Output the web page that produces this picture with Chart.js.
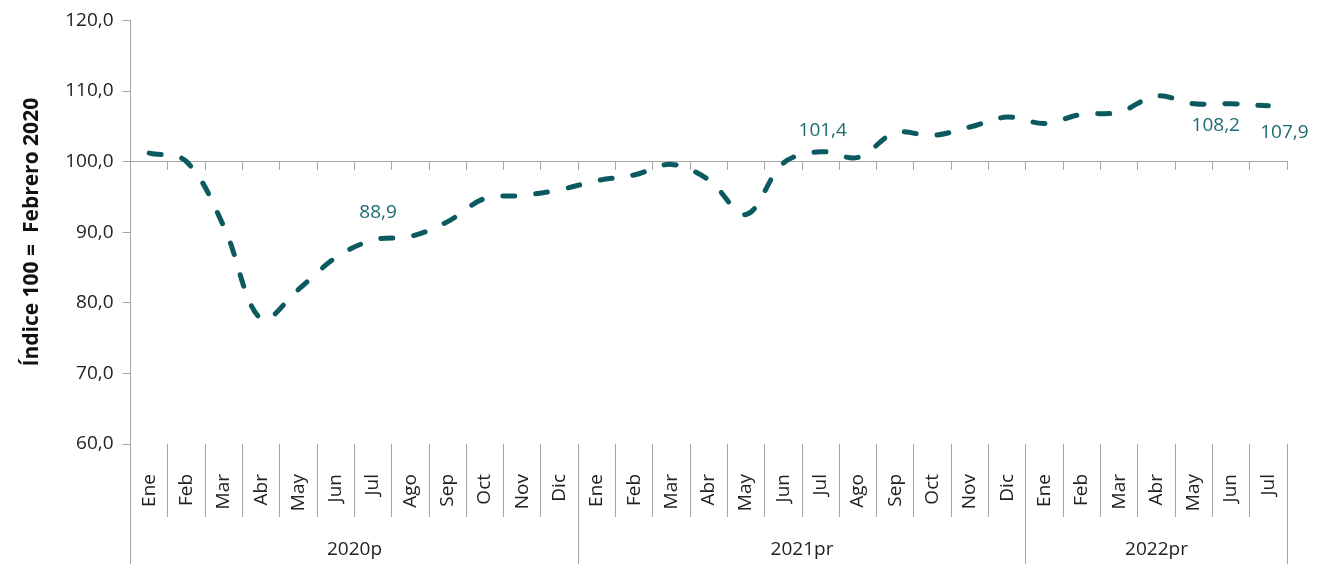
<!DOCTYPE html>
<html lang="es">
<head>
<meta charset="UTF-8">
<title>Índice 100 = Febrero 2020</title>
<script src="https://cdn.jsdelivr.net/npm/chart.js@4"></script>
<style>
  html, body { margin: 0; padding: 0; background: #fff; }
  #wrap { width: 1324px; height: 564px; position: relative; }
</style>
</head>
<body>
<div id="wrap"><canvas id="chart"></canvas></div>
<script>
  // --- data ---
  const months = ['Ene','Feb','Mar','Abr','May','Jun','Jul','Ago','Sep','Oct','Nov','Dic',
                  'Ene','Feb','Mar','Abr','May','Jun','Jul','Ago','Sep','Oct','Nov','Dic',
                  'Ene','Feb','Mar','Abr','May','Jun','Jul'];
  const years = ['2020p', '2021pr', '2022pr'];
  const yearSizes = [12, 12, 7];
  const values = [101.2, 100.0, 90.8, 77.7, 81.9, 86.4, 88.9, 89.4, 91.5, 94.8, 95.2, 96.0,
                  97.3, 98.1, 99.6, 97.4, 92.5, 99.8, 101.4, 100.6, 104.1, 103.7, 104.9, 106.3,
                  105.4, 106.7, 107.0, 109.3, 108.2, 108.2, 107.9];
  const labelled = [6, 18, 28, 30];   // points that carry a value label
  const yMin = 60, yMax = 120, yStep = 10;

  const LINE = '#0b5a60';
  const LABEL = '#1d6b71';
  const AXIS = '#a6a6a6';
  const FONT = '"Open Sans", "Noto Sans", sans-serif';

  const fmt = v => v.toFixed(1).replace('.', ',');
  const crisp = p => Math.round(p - 0.5) + 0.5;   // same snapping Chart.js uses for 1px lines

  // value labels next to chosen points
  const labelOffsets = { 6: [5, -27], 18: [2, -21], 28: [22, 22], 30: [16, 27] };
  const valueLabels = {
    id: 'valueLabels',
    afterDatasetsDraw(chart) {
      const ctx = chart.ctx;
      const pts = chart.getDatasetMeta(0).data;
      ctx.save();
      ctx.font = '19px ' + FONT;
      ctx.fillStyle = LABEL;
      ctx.textAlign = 'center';
      ctx.textBaseline = 'middle';
      labelled.forEach(i => {
        const [dx, dy] = labelOffsets[i];
        ctx.fillText(fmt(values[i]), pts[i].x + dx, pts[i].y + dy);
      });
      ctx.restore();
    }
  };

  // year groups under the month labels
  const yearGroups = {
    id: 'yearGroups',
    afterDraw(chart) {
      const sc = chart.scales.x2;
      const ctx = chart.ctx;
      const top = chart.chartArea.bottom;
      const half = (sc.getPixelForValue(1) - sc.getPixelForValue(0)) / 2;
      ctx.save();
      ctx.strokeStyle = AXIS;
      ctx.lineWidth = 1;
      ctx.fillStyle = '#222';
      ctx.font = '19px ' + FONT;
      ctx.textAlign = 'center';
      ctx.textBaseline = 'middle';
      let start = 0;
      yearSizes.forEach((n, i) => {
        const left = crisp(sc.getPixelForValue(start) - half);
        const right = crisp(sc.getPixelForValue(start + n - 1) + half);
        ctx.beginPath();
        ctx.moveTo(left, top); ctx.lineTo(left, chart.height);
        ctx.moveTo(right, top); ctx.lineTo(right, chart.height);
        ctx.stroke();
        ctx.fillText(years[i], (left + right) / 2, chart.height - 14);
        start += n;
      });
      ctx.restore();
    }
  };

  new Chart(document.getElementById('chart'), {
    type: 'line',
    data: {
      labels: months,
      datasets: [{
        data: values,
        borderColor: LINE,
        borderWidth: 5,
        borderDash: [12, 21],
        borderCapStyle: 'round',
        tension: 0.35,
        pointRadius: 0,
        fill: false,
        xAxisID: 'x'
      }]
    },
    options: {
      responsive: true,
      maintainAspectRatio: false,
      animation: false,
      layout: { padding: { top: 13, right: 37, bottom: 0, left: 19 } },
      plugins: { legend: { display: false }, tooltip: { enabled: false } },
      scales: {
        x: {
          type: 'category',
          position: { y: 100 },
          offset: true,
          grid: { offset: true, drawOnChartArea: false, tickLength: 8, color: AXIS },
          border: { color: AXIS },
          ticks: { display: false }
        },
        x2: {
          type: 'category',
          position: 'bottom',
          offset: true,
          grid: { offset: true, drawOnChartArea: false, tickLength: 73, color: AXIS },
          border: { display: false },
          ticks: {
            autoSkip: false, minRotation: 90, maxRotation: 90, padding: -43,
            color: '#222', font: { family: FONT, size: 19 }
          },
          afterFit: s => { s.height = 120; }
        },
        y: {
          min: yMin, max: yMax,
          grid: { drawOnChartArea: false, tickLength: 8, color: AXIS },
          border: { color: AXIS },
          ticks: { stepSize: yStep, padding: 9, color: '#222', font: { family: FONT, size: 19 }, callback: v => fmt(v) },
          title: {
            display: true, text: 'Índice 100 =  Febrero 2020', color: '#111',
            font: { family: FONT, size: 21, weight: 'bold' }, padding: { top: 0, bottom: 12 }
          }
        }
      }
    },
    plugins: [valueLabels, yearGroups]
  });
</script>
</body>
</html>
